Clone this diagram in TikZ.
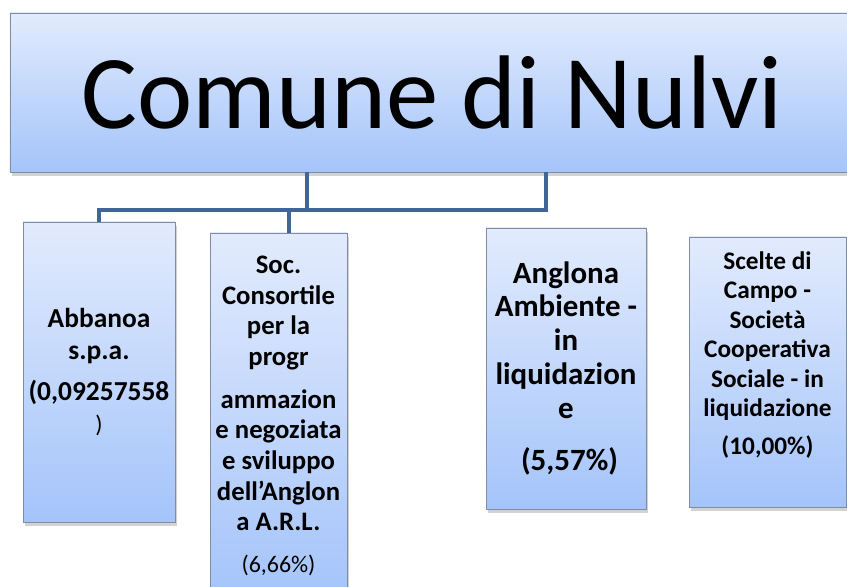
\documentclass[tikz,border=0pt]{standalone}
\usepackage{fontspec}
\setmainfont{Carlito}
\usetikzlibrary{shadows}

\definecolor{boxtop}{RGB}{226,235,253}
\definecolor{boxbot}{RGB}{164,196,250}
\definecolor{boxline}{RGB}{128,140,160}
\definecolor{linkblue}{RGB}{62,102,153}

\begin{document}
\begin{tikzpicture}[
    box/.style = {
      draw = boxline,
      line width = 0.6pt,
      top color = boxtop,
      bottom color = boxbot,
      inner sep = 0pt,
      align = center,
      drop shadow = {shadow xshift=1.5pt, shadow yshift=-2.5pt,
                     opacity=0.25, fill=black!70}
    },
    link/.style = {
      draw = linkblue,
      line width = 3pt
    }
  ]
  \clip (0,0) rectangle (21.175,14.675);

  \node[box, minimum width=21.1cm, minimum height=3.975cm,
        font=\fontsize{74.5}{80}\selectfont]
    (comune) at (10.8,12.3625) {Comune di Nulvi};

  \node[box, minimum width=3.8cm, minimum height=7.5cm,
        font=\fontsize{19.5}{22.7}\selectfont\bfseries]
    (abbanoa) at (2.475,5.375)
    {Abbanoa\\s.p.a.\\[6pt](0,09257558\\{\mdseries\fontsize{17}{20}\selectfont )}};

  \node[box, minimum width=3.425cm, minimum height=9.15cm,
        font=\fontsize{19}{21.8}\selectfont\bfseries]
    (soc) at (6.9625,4.275)
    {Soc.\\Consortile\\per la\\progr\\[8.5pt]ammazion\\e negoziata\\e sviluppo\\dell’Anglon\\a A.R.L.\\[8pt]{\mdseries\fontsize{17}{20}\selectfont (6,66\%)}};

  \node[box, minimum width=4cm, minimum height=7.025cm,
        font=\fontsize{22}{24}\selectfont\bfseries]
    (anglona) at (14.15,5.4625)
    {Anglona\\Ambiente -\\in\\liquidazion\\e\\[13.5pt]\ (5,57\%)};

  \node[box, minimum width=3.925cm, minimum height=6.75cm,
        font=\fontsize{18}{21}\selectfont\bfseries]
    (scelte) at (19.1875,5.375)
    {Scelte di\\Campo -\\Società\\Cooperativa\\Sociale - in\\liquidazione\\[6pt](10,00\%)\\[6pt]~};

  % connectors
  \coordinate (bar1) at (7.675,9.425);
  \coordinate (bar2) at (13.65,9.425);
  \coordinate (drop) at (7.225,9.425);

  \draw[link] (comune.south -| bar1) -- (bar1);
  \draw[link] (comune.south -| bar2) -- (bar2) -- (abbanoa.north |- bar2) -- (abbanoa.north);
  \draw[link] (drop) -- (soc.north -| drop);
\end{tikzpicture}
\end{document}
